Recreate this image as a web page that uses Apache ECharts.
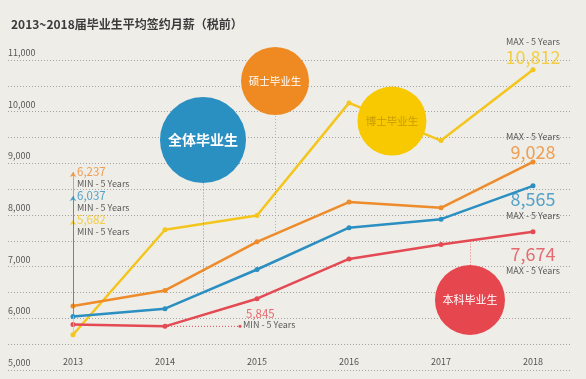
<!DOCTYPE html>
<html><head><meta charset="utf-8">
<script src="https://cdn.jsdelivr.net/npm/echarts@6/dist/echarts.min.js"></script>
<style>html,body{margin:0;padding:0;background:#eeede8}#c{width:586px;height:379px}</style>
</head><body><div id="c"></div>
<script>
// ---------- data ----------
const titleText = '2013~2018届毕业生平均签约月薪（税前）';
const years = [2013, 2014, 2015, 2016, 2017, 2018];
const yMin = 5000, yMax = 11000, yStep = 500;
const seriesNames = ['博士毕业生', '硕士毕业生', '全体毕业生', '本科毕业生'];
const doctorValues   = [5682, 7715, 7990, 10170, 9440, 10812];
const masterValues   = [6237, 6540, 7480, 8250, 8140, 9028];
const allValues      = [6037, 6186, 6945, 7755, 7920, 8565];
const bachelorValues = [5880, 5845, 6380, 7150, 7430, 7674];
const minText = 'MIN - 5 Years';
const maxText = 'MAX - 5 Years';

// ---------- layout / style (not data) ----------
const FONT = "'Noto Sans CJK SC','Noto Sans',sans-serif";
const colors = {
  '博士毕业生': '#f4c51c', '硕士毕业生': '#ee8b2b', '全体毕业生': '#2b8fc1', '本科毕业生': '#e44a53'
};
const bubbleColors = {
  '博士毕业生': '#f8c900', '硕士毕业生': '#ef8a22', '全体毕业生': '#2a8fc1', '本科毕业生': '#e6464e'
};
const bubbleText = {
  '博士毕业生': '#c79b00', '硕士毕业生': '#ffffff', '全体毕业生': '#ffffff', '本科毕业生': '#ffffff'
};
// bubble centre (data coords), diameter px, font size, connector end (data y)
const bubbleLayout = {
  '全体毕业生': {x: 2014.413, y: 9451, d: 86, fs: 14, conn: 8619},
  '硕士毕业生': {x: 2015.196, y: 10593, d: 68, fs: 10.5, conn: 9916},
  '博士毕业生': {x: 2016.467, y: 9819, d: 69, fs: 10.5, conn: null},
  '本科毕业生': {x: 2017.315, y: 6355, d: 70, fs: 11, conn: 7032}
};
// MIN marker label heights for 2013 start points (data y)
const minLabelAt = {'硕士毕业生': 8832, '全体毕业生': 8368, '博士毕业生': 7903};
const bachelorMinEndX = 2014.815;
// MAX label placement
const maxLabelPlace = {
  '博士毕业生': {pos: 'top', dist: 3},
  '硕士毕业生': {pos: 'top', dist: 0},
  '全体毕业生': {pos: 'bottom', dist: 4},
  '本科毕业生': {pos: 'bottom', dist: 13}
};

const valuesByName = {
  '博士毕业生': doctorValues, '硕士毕业生': masterValues,
  '全体毕业生': allValues, '本科毕业生': bachelorValues
};
const fmt = v => v.toLocaleString('en-US');
function valueAt(vals, x) {
  const i = Math.min(Math.floor(x - years[0]), years.length - 2);
  const f = x - years[i];
  return vals[i] + (vals[i + 1] - vals[i]) * f;
}

const series = [];
// main lines
seriesNames.forEach(name => {
  const vals = valuesByName[name];
  const c = colors[name];
  const ml = [];
  if (minLabelAt[name] !== undefined) {
    ml.push([{coord: [years[0], vals[0]]}, {coord: [years[0], minLabelAt[name]]}]);
  }
  const bl = bubbleLayout[name];
  if (bl.conn !== null) {
    ml.push([{coord: [bl.x, valueAt(vals, bl.x)], symbol: 'none'},
             {coord: [bl.x, bl.conn], symbol: 'none', lineStyle: {type: [1, 2], color: c, opacity: 0.75}}]);
  }
  series.push({
    type: 'line', name, xAxisIndex: 1, yAxisIndex: 1,
    data: years.map((y, i) => [y, vals[i]]),
    symbol: 'circle', symbolSize: 5, z: 3,
    lineStyle: {width: 2.5, color: c}, itemStyle: {color: c},
    markLine: {
      silent: true, animation: false, symbol: ['none', 'arrow'], symbolSize: 5,
      label: {show: false}, lineStyle: {type: 'solid', width: 1, color: c, opacity: 0.8},
      data: ml
    }
  });
});
// bachelor min dotted line
series.push({
  type: 'line', xAxisIndex: 1, yAxisIndex: 1, z: 2,
  data: [[years[1], bachelorValues[1]], [bachelorMinEndX, bachelorValues[1]]],
  showSymbol: false,
  lineStyle: {width: 1, type: [1, 2], color: colors['本科毕业生']},
  markPoint: {silent: true, symbol: 'circle', symbolSize: 3, itemStyle: {color: colors['本科毕业生']},
    label: {show: false}, data: [{coord: [bachelorMinEndX, bachelorValues[1]]}]}
});
// bubbles
series.push({
  type: 'scatter', xAxisIndex: 1, yAxisIndex: 1, z: 10, silent: true,
  data: seriesNames.map(name => {
    const b = bubbleLayout[name];
    return {
      value: [b.x, b.y], symbolSize: b.d,
      itemStyle: {color: bubbleColors[name], opacity: 1},
      label: {show: true, position: 'inside', formatter: name, color: bubbleText[name],
        fontSize: b.fs, fontWeight: name === '全体毕业生' ? 'bold' : 'normal', fontFamily: FONT}
    };
  })
});
// text annotations
const annot = [];
['硕士毕业生', '全体毕业生', '博士毕业生'].forEach(name => {
  annot.push({
    value: [years[0], minLabelAt[name]],
    label: {show: true, position: 'right', distance: 4, offset: [0, 6],
      formatter: '{v|' + fmt(valuesByName[name][0]) + '}\n{m|' + minText + '}',
      rich: {v: {fontSize: 11.5, color: colors[name], lineHeight: 12, fontFamily: FONT},
             m: {fontSize: 9, color: '#333', lineHeight: 12, fontFamily: FONT}}}
  });
});
annot.push({
  value: [bachelorMinEndX, bachelorValues[1]],
  label: {show: true, position: 'right', distance: 3, offset: [0, -7],
    formatter: '{v|' + fmt(bachelorValues[1]) + '}\n{m|' + minText + '}',
    rich: {v: {fontSize: 11.5, color: colors['本科毕业生'], lineHeight: 11, fontFamily: FONT, padding: [0, 0, 0, 3]},
           m: {fontSize: 9, color: '#333', lineHeight: 11, fontFamily: FONT}}}
});
seriesNames.forEach(name => {
  const vals = valuesByName[name];
  const p = maxLabelPlace[name];
  const last = vals[vals.length - 1];
  const v = '{v|' + fmt(last) + '}', m = '{m|' + maxText + '}';
  annot.push({
    value: [years[years.length - 1], last],
    label: {show: true, position: p.pos, distance: p.dist, align: 'center',
      formatter: p.pos === 'top' ? m + '\n' + v : v + '\n' + m,
      rich: {v: {fontSize: 18, color: colors[name], lineHeight: 19, fontFamily: FONT, align: 'center'},
             m: {fontSize: 9, color: '#333', lineHeight: 13, fontFamily: FONT, align: 'center'}}}
  });
});
series.push({
  type: 'scatter', xAxisIndex: 1, yAxisIndex: 1, z: 12, silent: true,
  symbolSize: 0, itemStyle: {color: 'transparent'}, data: annot
});

const chart = echarts.init(document.getElementById('c'), null, {renderer: 'canvas'});
chart.setOption({
  animation: false,
  backgroundColor: '#eeede8',
  textStyle: {fontFamily: FONT},
  title: {text: titleText, left: 6, top: 13,
    textStyle: {fontSize: 12, fontWeight: 'bold', color: '#3b3b3b', fontFamily: FONT}},
  grid: [
    {left: 8, right: 15, top: 60, bottom: 9},
    {left: 73, right: 53, top: 60, bottom: 9}
  ],
  xAxis: [
    {gridIndex: 0, type: 'value', min: 0, max: 1, show: false},
    {gridIndex: 1, type: 'value', min: years[0], max: years[years.length - 1], interval: 1,
      axisLine: {show: false}, axisTick: {show: false}, splitLine: {show: false},
      axisLabel: {inside: true, margin: 4, fontSize: 9, color: '#555', fontFamily: FONT,
        showMinLabel: true, showMaxLabel: true, formatter: v => String(v)}}
  ],
  yAxis: [
    {gridIndex: 0, type: 'value', min: yMin, max: yMax, interval: yStep,
      axisLine: {show: false}, axisTick: {show: false},
      splitLine: {show: true, lineStyle: {type: [1, 2], color: '#a3a3a3', width: 1}},
      axisLabel: {inside: true, margin: 0, verticalAlign: 'bottom', padding: [0, 0, 3, 0],
        fontSize: 9, color: '#555', fontFamily: FONT,
        formatter: v => (v % 1000 === 0 ? fmt(v) : '')}},
    {gridIndex: 1, type: 'value', min: yMin, max: yMax, show: false}
  ],
  series
});
</script>
</body></html>
